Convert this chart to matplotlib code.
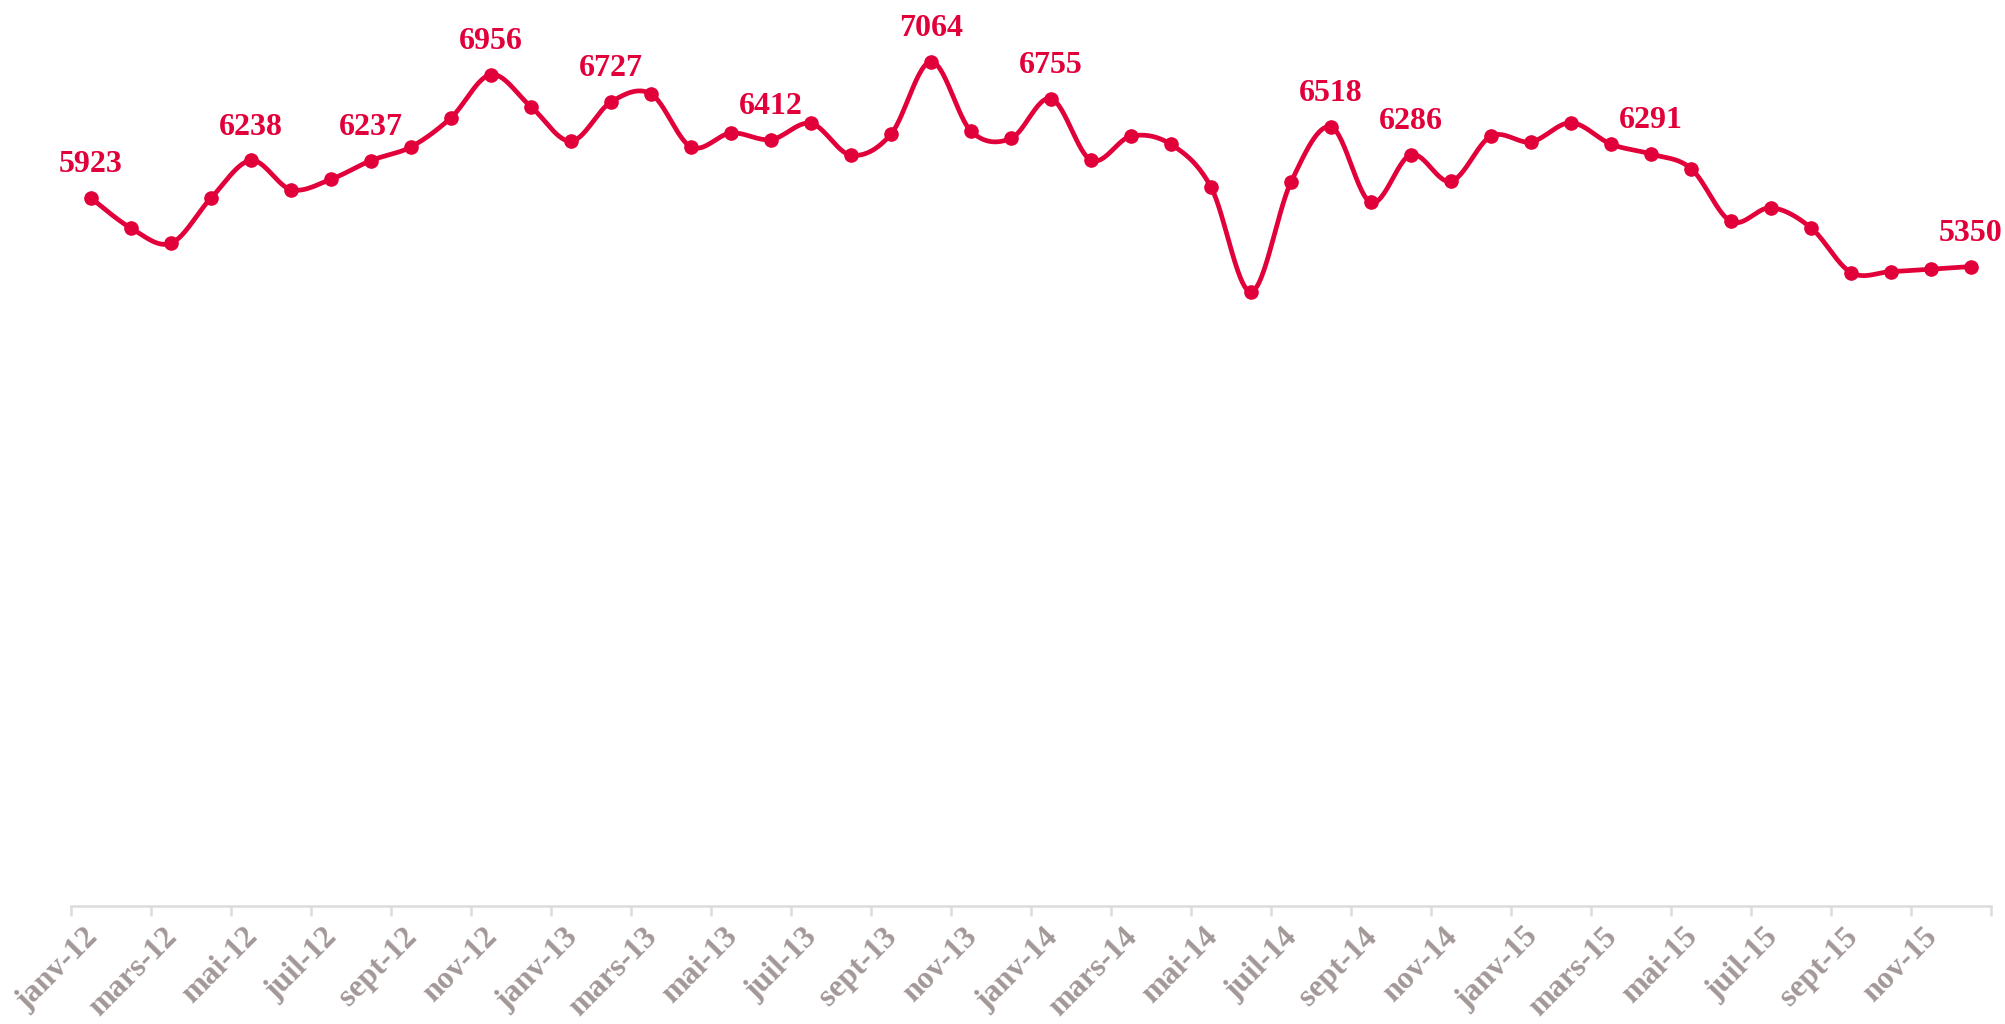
import numpy as np
import matplotlib
matplotlib.use("Agg")
import matplotlib.pyplot as plt

# ── Data (monthly, janv-12 .. déc-15) ─────────────────────────────────────────
MONTHS = ["janv", "févr", "mars", "avr", "mai", "juin",
          "juil", "août", "sept", "oct", "nov", "déc"]
YEARS = ["12", "13", "14", "15"]

values = [
    5923, 5671, 5545, 5923, 6238, 5994, 6080, 6237, 6351, 6595, 6956, 6687,   # 2012
    6399, 6727, 6794, 6351, 6467, 6412, 6548, 6282, 6458, 7064, 6483, 6422,   # 2013
    6755, 6240, 6441, 6372, 6015, 5139, 6057, 6518, 5886, 6286, 6063, 6441,   # 2014
    6393, 6553, 6374, 6291, 6170, 5727, 5842, 5674, 5300, 5308, 5328, 5350,   # 2015
]
labelled = [0, 4, 7, 10, 13, 17, 21, 24, 31, 33, 39, 47]

RED = "#E2003A"
GREY_TXT = "#A39898"
AXIS_COL = "#DCDCDC"


def smooth(x, y, n=30):
    # Excel-style smoothed line (Catmull-Rom as cubic Bezier segments)
    px, py = [], []
    m = len(x)
    for i in range(m - 1):
        x0, y0 = (x[i - 1], y[i - 1]) if i > 0 else (x[i], y[i])
        x3, y3 = (x[i + 2], y[i + 2]) if i + 2 < m else (x[i + 1], y[i + 1])
        c1x = x[i] + (x[i + 1] - x0) / 6
        c1y = y[i] + (y[i + 1] - y0) / 6
        c2x = x[i + 1] - (x3 - x[i]) / 6
        c2y = y[i + 1] - (y3 - y[i]) / 6
        t = np.linspace(0, 1, n, endpoint=(i == m - 2))
        a, b, c, d = (1 - t) ** 3, 3 * t * (1 - t) ** 2, 3 * t ** 2 * (1 - t), t ** 3
        px.extend(a * x[i] + b * c1x + c * c2x + d * x[i + 1])
        py.extend(a * y[i] + b * c1y + c * c2y + d * y[i + 1])
    return np.array(px), np.array(py)


xs = np.arange(len(values)) + 0.5
sx, sy = smooth(xs, np.array(values, dtype=float))

fig = plt.figure(figsize=(20.05, 10.24), dpi=100)
ax = fig.add_axes([71 / 2005, 1 - 906 / 1024, 1920 / 2005, 906 / 1024])

ax.plot(sx, sy, color=RED, linewidth=3.4, solid_capstyle="round", zorder=3)
ax.plot(xs, values, "o", color=RED, markersize=9.5, zorder=4)

for i in labelled:
    ax.annotate(str(values[i]), (xs[i], values[i]), xytext=(0, 18.5),
                textcoords="offset points", ha="center", va="baseline",
                fontsize=23, fontweight="bold", color=RED,
                family="Liberation Serif")

ax.set_xlim(0, 48)
ax.set_ylim(0, 7580)

for s in ["top", "right", "left"]:
    ax.spines[s].set_visible(False)
ax.spines["bottom"].set_color(AXIS_COL)
ax.spines["bottom"].set_linewidth(1.8)
ax.set_yticks([])

ax.set_xticks(np.arange(0, 49, 2))
ax.set_xticklabels([])
ax.tick_params(axis="x", length=7, width=1.8, color=AXIS_COL)

tick_labels = [f"{MONTHS[m]}-{y}" for y in YEARS for m in range(0, 12, 2)]
for k, lab in enumerate(tick_labels):
    ax.text(2 * k + 0.3, -0.018, lab, transform=ax.get_xaxis_transform(),
            rotation=45, rotation_mode="anchor", ha="right", va="top",
            fontsize=23, fontweight="bold", color=GREY_TXT,
            family="Liberation Serif")

fig.savefig("out.png", dpi=100)
